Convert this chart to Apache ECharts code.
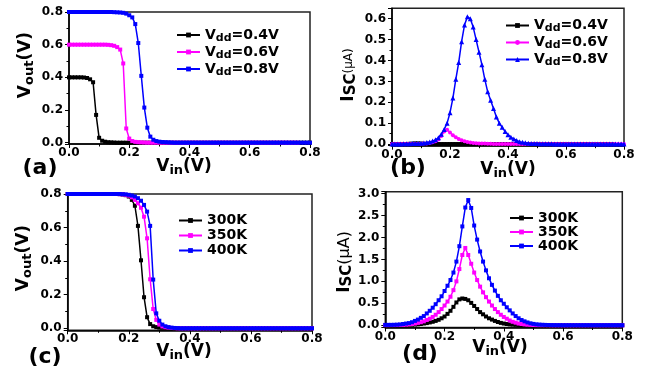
<!DOCTYPE html>
<html>
<head>
<meta charset="utf-8">
<script src="https://cdn.jsdelivr.net/npm/echarts@6/dist/echarts.min.js"></script>
<style>html,body{margin:0;padding:0;background:#fff}#c{width:646px;height:370px}</style>
</head>
<body>
<div id="c"></div>
<script>
// ---- data ----
const vin = [0.00,0.01,0.02,0.03,0.04,0.05,0.06,0.07,0.08,0.09,0.10,0.11,0.12,0.13,0.14,0.15,0.16,0.17,0.18,0.19,0.20,
0.21,0.22,0.23,0.24,0.25,0.26,0.27,0.28,0.29,0.30,0.31,0.32,0.33,0.34,0.35,0.36,0.37,0.38,0.39,0.40,
0.41,0.42,0.43,0.44,0.45,0.46,0.47,0.48,0.49,0.50,0.51,0.52,0.53,0.54,0.55,0.56,0.57,0.58,0.59,0.60,
0.61,0.62,0.63,0.64,0.65,0.66,0.67,0.68,0.69,0.70,0.71,0.72,0.73,0.74,0.75,0.76,0.77,0.78,0.79,0.80];

const vddLabels = ['0.4V','0.6V','0.8V'];
const tempLabels = ['300K','350K','400K'];
const xTicks = [0.0,0.2,0.4,0.6,0.8];

// (a) Vout vs Vin for Vdd
const voutVdd04 = [0.4,0.4,0.4,0.4,0.4,0.399,0.396,0.388,0.37,0.17,0.03,0.012,0.006,0.003,0.002,0.001,
0,0,0,0,0,0,0,0,0,0,0,0,0,0,0,0,0,0,0,0,0,0,0,0,0,0,0,0,0,0,0,0,0,0,0,0,0,0,0,0,0,0,0,0,0,0,0,0,0,0,0,0,0,0,0,0,0,0,0,0,0,0,0,0,0];
const voutVdd06 = [0.6,0.6,0.6,0.6,0.6,0.6,0.6,0.6,0.6,0.6,0.6,0.6,0.6,0.599,0.597,0.593,0.585,0.57,0.485,0.087,0.025,0.01,0.005,0.003,0.002,0.001,
0,0,0,0,0,0,0,0,0,0,0,0,0,0,0,0,0,0,0,0,0,0,0,0,0,0,0,0,0,0,0,0,0,0,0,0,0,0,0,0,0,0,0,0,0,0,0,0,0,0,0];
const voutVdd08 = [0.8,0.8,0.8,0.8,0.8,0.8,0.8,0.8,0.8,0.8,0.8,0.8,0.8,0.8,0.8,0.799,0.798,0.797,0.795,0.79,0.78,0.767,0.726,0.61,0.409,0.215,0.092,0.037,0.018,0.01,0.006,0.004,0.003,0.002,0.001,
0,0,0,0,0,0,0,0,0,0,0,0,0,0,0,0,0,0,0,0,0,0,0,0,0,0,0,0,0,0,0,0,0,0,0,0,0,0,0,0,0,0,0,0,0,0];

// (b) Isc vs Vin for Vdd (uA)
const iscVdd04 = [0,0,0,0,0,0,0.001,0.002,0.003,0.003,0.002,0.001,0.001,
0,0,0,0,0,0,0,0,0,0,0,0,0,0,0,0,0,0,0,0,0,0,0,0,0,0,0,0,0,0,0,0,0,0,0,0,0,0,0,0,0,0,0,0,0,0,0,0,0,0,0,0,0,0,0,0,0,0,0,0,0,0,0,0];
const iscVdd06 = [0,0,0,0,0,0,0,0,0,0,0.001,0.002,0.003,0.005,0.008,0.013,0.022,0.038,0.06,0.068,0.055,0.042,0.032,0.024,0.018,0.013,0.01,0.007,0.005,0.004,0.003,0.002,0.002,0.001,0.001,
0,0,0,0,0,0,0,0,0,0,0,0,0,0,0,0,0,0,0,0,0,0,0,0,0,0,0,0,0,0,0,0,0,0,0,0,0,0,0,0,0,0,0,0,0,0];
const iscVdd08 = [0,0,0,0,0.001,0.001,0.001,0.002,0.002,0.003,0.004,0.005,0.007,0.01,0.014,0.02,0.03,0.047,0.07,0.1,0.15,
0.22,0.31,0.39,0.49,0.57,0.61,0.6,0.56,0.5,0.44,0.38,0.31,0.25,0.21,0.17,0.13,0.1,0.08,0.06,0.045,
0.033,0.024,0.017,0.011,0.008,0.006,0.004,0.003,0.002,0.002,0.001,0.001,0.001,0.001,0.001,
0,0,0,0,0,0,0,0,0,0,0,0,0,0,0,0,0,0,0,0,0,0,0,0,0];

// (c) Vout vs Vin for temperature
const vout300 = [0.8,0.8,0.8,0.8,0.8,0.8,0.8,0.8,0.8,0.8,0.8,0.8,0.8,0.8,0.8,0.8,0.8,0.799,0.797,0.793,0.785,0.765,0.73,0.61,0.405,0.185,0.066,0.025,0.012,0.007,0.004,0.003,0.002,0.001,
0,0,0,0,0,0,0,0,0,0,0,0,0,0,0,0,0,0,0,0,0,0,0,0,0,0,0,0,0,0,0,0,0,0,0,0,0,0,0,0,0,0,0,0,0,0,0];
const vout350 = [0.8,0.8,0.8,0.8,0.8,0.8,0.8,0.8,0.8,0.8,0.8,0.8,0.8,0.8,0.8,0.8,0.8,0.799,0.798,0.795,0.79,0.78,0.765,0.745,0.718,0.665,0.536,0.292,0.115,0.05,0.022,0.011,0.006,0.004,0.002,0.001,
0,0,0,0,0,0,0,0,0,0,0,0,0,0,0,0,0,0,0,0,0,0,0,0,0,0,0,0,0,0,0,0,0,0,0,0,0,0,0,0,0,0,0,0,0];
const vout400 = [0.8,0.8,0.8,0.8,0.8,0.8,0.8,0.8,0.8,0.8,0.8,0.8,0.8,0.8,0.8,0.8,0.8,0.8,0.799,0.798,0.795,0.791,0.785,0.775,0.76,0.735,0.695,0.61,0.29,0.089,0.045,0.022,0.012,0.007,0.004,0.002,0.001,
0,0,0,0,0,0,0,0,0,0,0,0,0,0,0,0,0,0,0,0,0,0,0,0,0,0,0,0,0,0,0,0,0,0,0,0,0,0,0,0,0,0,0,0];

// (d) Isc vs Vin for temperature (uA)
const isc300 = [0.002,0.002,0.003,0.003,0.004,0.005,0.006,0.008,0.01,0.013,0.017,0.022,0.03,0.04,0.05,0.065,0.08,0.1,0.125,0.16,0.2,
0.26,0.33,0.42,0.52,0.59,0.61,0.6,0.57,0.51,0.44,0.37,0.3,0.25,0.2,0.16,0.13,0.1,0.075,0.055,0.04,
0.03,0.02,0.015,0.01,0.007,0.005,0.004,0.003,0.002,0.002,0.001,0.001,0.001,0.001,0.001,
0,0,0,0,0,0,0,0,0,0,0,0,0,0,0,0,0,0,0,0,0,0,0,0,0];
const isc350 = [0.004,0.004,0.005,0.005,0.006,0.007,0.01,0.015,0.02,0.03,0.04,0.055,0.07,0.09,0.12,0.15,0.19,0.24,0.3,0.37,0.45,
0.54,0.65,0.8,1.0,1.28,1.6,1.76,1.6,1.4,1.2,1.03,0.88,0.75,0.64,0.54,0.45,0.37,0.3,0.24,0.19,
0.15,0.11,0.08,0.06,0.04,0.03,0.02,0.014,0.01,0.007,0.005,0.004,0.003,0.003,0.002,
0.001,0.001,0.001,0.001,0.001,0.001,0.001,0.001,0.001,0.001,0.001,0.001,0.001,0.001,0.001,0.001,0.001,0.001,0.001,0.001,0.001,0.001,0.001,0.001,0.001];
const isc400 = [0.01,0.01,0.01,0.012,0.015,0.02,0.03,0.04,0.05,0.07,0.1,0.13,0.17,0.21,0.27,0.33,0.4,0.48,0.57,0.66,0.78,
0.9,1.03,1.2,1.45,1.8,2.25,2.68,2.85,2.67,2.27,1.95,1.68,1.45,1.25,1.07,0.92,0.79,0.67,0.57,0.49,
0.41,0.34,0.27,0.21,0.16,0.12,0.09,0.065,0.045,0.032,0.022,0.016,0.012,0.009,0.007,0.005,0.004,0.003,0.003,
0.002,0.002,0.002,0.002,0.002,0.002,0.002,0.002,0.002,0.002,0.002,0.002,0.002,0.002,0.002,0.002,0.002,0.002,0.002,0.002,0.002];

// ---- styling / layout ----
const F = 'DejaVu Sans';
const colors = ['#000000', '#ff00ff', '#0000ff'];
const pair = ys => vin.map((x, i) => [x, ys[i]]);

const grids = [
  {left: 69, top: 12, width: 241, height: 132},
  {left: 392, top: 8.3, width: 232, height: 137.4},
  {left: 67.7, top: 194, width: 244.3, height: 136.3},
  {left: 385.3, top: 191.7, width: 237, height: 135.8}
].map(g => Object.assign({show: true, borderColor: '#222', borderWidth: 1.5, backgroundColor: 'transparent'}, g));

const tickLabel = {fontFamily: F, fontWeight: 'bold', fontSize: 12, color: '#000'};

function xAx(i) {
  return {
    gridIndex: i, type: 'value', min: xTicks[0], max: xTicks[xTicks.length - 1], interval: xTicks[1] - xTicks[0],
    axisLine: {show: true, onZero: false, lineStyle: {color: '#000', width: 1.5}},
    axisTick: {show: true, inside: false, length: 4, lineStyle: {color: '#000', width: 1}},
    minorTick: {show: true, splitNumber: 2, length: 2.5, lineStyle: {color: '#000', width: 1}},
    splitLine: {show: false}, minorSplitLine: {show: false},
    axisLabel: Object.assign({formatter: v => v.toFixed(1), margin: 3, showMinLabel: true, showMaxLabel: true}, tickLabel)
  };
}
function yAx(i, min, max, split, hideMax) {
  return {
    gridIndex: i, type: 'value', min: min, max: max, splitNumber: split,
    axisLine: {show: true, onZero: false, lineStyle: {color: '#000', width: 1.5}},
    axisTick: {show: true, inside: false, length: 4, lineStyle: {color: '#000', width: 1}},
    minorTick: {show: true, splitNumber: 2, length: 2.5, lineStyle: {color: '#000', width: 1}},
    splitLine: {show: false}, minorSplitLine: {show: false},
    axisLabel: Object.assign({formatter: v => v.toFixed(1), margin: 6, showMinLabel: false, showMaxLabel: !hideMax}, tickLabel)
  };
}

function ser(name, grid, ys, ci, symbol, size) {
  return {
    name: name, type: 'line', xAxisIndex: grid, yAxisIndex: grid, data: pair(ys),
    symbol: symbol, symbolSize: size, showSymbol: true,
    lineStyle: {color: colors[ci], width: 1.5},
    itemStyle: {color: colors[ci]},
    emphasis: {disabled: true}, z: 3 + ci
  };
}

const series = [
  ser('a' + vddLabels[0], 0, voutVdd04, 0, 'rect', 4),
  ser('a' + vddLabels[1], 0, voutVdd06, 1, 'rect', 4),
  ser('a' + vddLabels[2], 0, voutVdd08, 2, 'rect', 4),
  ser('b' + vddLabels[0], 1, iscVdd04, 0, 'rect', 4),
  ser('b' + vddLabels[1], 1, iscVdd06, 1, 'circle', 4),
  ser('b' + vddLabels[2], 1, iscVdd08, 2, 'triangle', 5),
  ser('c' + tempLabels[0], 2, vout300, 0, 'rect', 4),
  ser('c' + tempLabels[1], 2, vout350, 1, 'rect', 4),
  ser('c' + tempLabels[2], 2, vout400, 2, 'rect', 4),
  ser('d' + tempLabels[0], 3, isc300, 0, 'rect', 4),
  ser('d' + tempLabels[1], 3, isc350, 1, 'rect', 4),
  ser('d' + tempLabels[2], 3, isc400, 2, 'rect', 4)
];

const legRich = (fs, lh) => ({
  v: {fontFamily: F, fontWeight: 'bold', fontSize: fs, lineHeight: lh, color: '#000'},
  s: {fontFamily: F, fontWeight: 'bold', fontSize: fs - 3, lineHeight: 8, verticalAlign: 'bottom', color: '#000'}
});
function leg(prefix, labels, left, top, lh, isVdd) {
  return {
    orient: 'vertical', left: left, top: top, padding: 0, itemGap: 0, itemWidth: 23, itemHeight: 6,
    data: labels.map(l => prefix + l),
    selectedMode: false,
    formatter: n => isVdd ? '{v|V}{s|dd}{v|=' + n.slice(1) + '}' : '{v|' + n.slice(1) + '}',
    textStyle: {rich: legRich(14, lh), fontSize: 14, lineHeight: lh, padding: [0, 0, 0, 0]}
  };
}

const tR = {
  v: {fontFamily: F, fontWeight: 'bold', fontSize: 17, lineHeight: 20, fill: '#000', color: '#000'},
  s: {fontFamily: F, fontWeight: 'bold', fontSize: 13, lineHeight: 9, verticalAlign: 'bottom', fill: '#000', color: '#000'},
  S: {fontFamily: F, fontWeight: 'bold', fontSize: 15, lineHeight: 10, verticalAlign: 'bottom', fill: '#000', color: '#000'},
  u: {fontFamily: F, fontWeight: 'normal', fontSize: 12, lineHeight: 20, fill: '#000', color: '#000'},
  w: {fontFamily: F, fontWeight: 'normal', fontSize: 16, lineHeight: 20, fill: '#000', color: '#000'},
  p: {fontFamily: F, fontWeight: 'bold', fontSize: 22, lineHeight: 24, fill: '#000', color: '#000'}
};
function txt(x, y, text, rot) {
  return {
    type: 'text', x: x, y: y, rotation: rot ? Math.PI / 2 : 0, z: 100,
    style: {text: text, rich: tR, align: 'center', verticalAlign: 'middle', textAlign: 'center', textVerticalAlign: 'middle', fill: '#000'}
  };
}
const vinT = '{v|V}{s|in}{v|(V)}';
const voutT = '{v|V}{s|out}{v|(V)}';

const option = {
  animation: false,
  backgroundColor: '#fff',
  grid: grids,
  xAxis: [xAx(0), xAx(1), xAx(2), xAx(3)],
  yAxis: [yAx(0, -0.008, 0.8, 4, false), yAx(1, -0.008, 0.65, 6, true), yAx(2, -0.012, 0.8, 4, false), yAx(3, -0.05, 3.04, 6, true)],
  legend: [
    leg('a', vddLabels, 176, 26.5, 17, true),
    leg('b', vddLabels, 505, 17, 17, true),
    leg('c', tempLabels, 178, 213, 15, false),
    leg('d', tempLabels, 509, 211, 14, false)
  ],
  series: series,
  graphic: [
    txt(184, 167, vinT), txt(26, 65, voutT, true),
    txt(508, 170, vinT), txt(349, 75, '{v|I}{S|SC}{u|(μA)}', true),
    txt(184, 352, vinT), txt(24, 258, voutT, true),
    txt(500, 348, vinT), txt(345, 262, '{v|I}{S|SC}{w|(μA)}', true),
    txt(40, 168, '{p|(a)}'), txt(408, 168, '{p|(b)}'),
    txt(45, 357, '{p|(c)}'), txt(420, 354, '{p|(d)}')
  ]
};
const chart = echarts.init(document.getElementById('c'), null, {renderer: 'canvas'});
chart.setOption(option);
</script>
</body>
</html>
